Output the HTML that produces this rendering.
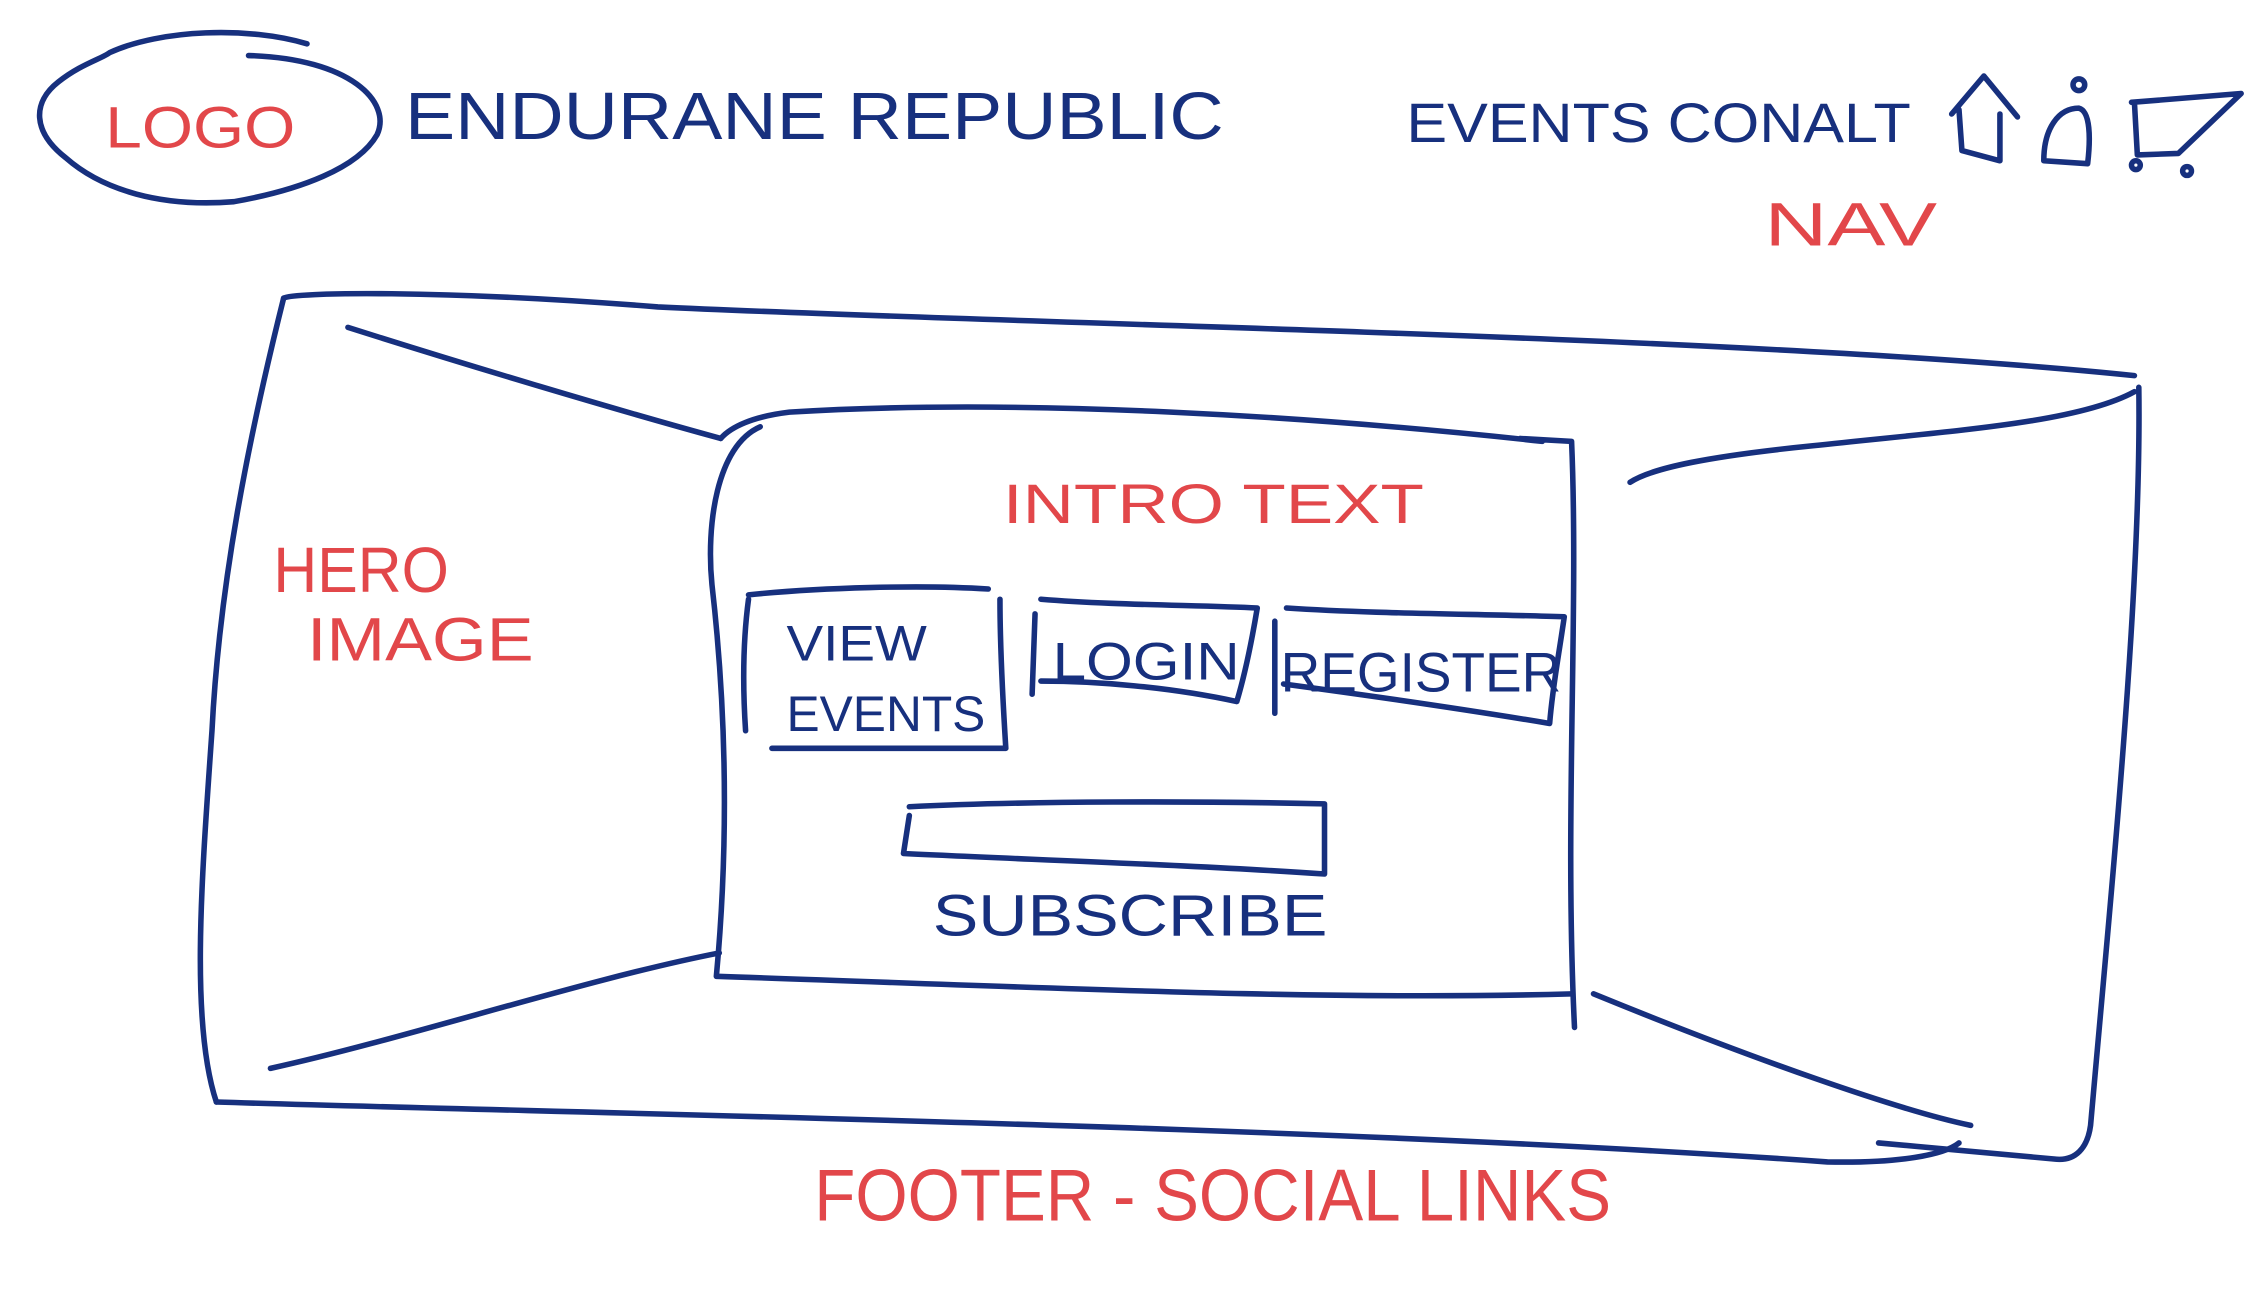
<!DOCTYPE html>
<html><head><meta charset="utf-8"><style>
html,body{margin:0;padding:0;background:#fff;}
svg{display:block;}
.n{fill:none;stroke:#17307e;stroke-width:3.8;stroke-linecap:round;stroke-linejoin:round;}
.tn{fill:#17307e;font-family:"Liberation Sans",sans-serif;}
.tr{fill:#e2474a;font-family:"Liberation Sans",sans-serif;}
</style></head><body>
<svg width="2266" height="1292" viewBox="0 0 1550 884" preserveAspectRatio="none" xmlns="http://www.w3.org/2000/svg">
<path class="n" d="M75,36 C110,20 170,18 210,30 M170,38 C240,40 268,70 258,92 C245,115 205,130 160,138 C110,142 70,130 45,108 C22,90 22,70 40,56 C55,44 70,40 75,36"/>
<text class="tr" x="72" y="101" font-size="40" textLength="130" lengthAdjust="spacingAndGlyphs">LOGO</text>
<text class="tn" x="277" y="95" font-size="46" textLength="560" lengthAdjust="spacingAndGlyphs">ENDURANE REPUBLIC</text>
<text class="tn" x="962" y="97" font-size="38" textLength="345" lengthAdjust="spacingAndGlyphs">EVENTS CONALT</text>
<path class="n" d="M1335,78 L1357,52 L1380,80 M1340,75 L1342,103 L1368,110 L1368,78"/>
<circle class="n" cx="1422" cy="58" r="4"/>
<path class="n" d="M1398,110 C1398,88 1408,74 1422,74 C1430,76 1430,95 1428,112 Z"/>
<path class="n" d="M1458,70 L1533,64 L1490,105 L1462,106 L1460,70"/>
<circle class="n" cx="1461" cy="113" r="3"/><circle class="n" cx="1496" cy="117" r="3"/>
<text class="tr" x="1207" y="168" font-size="42" textLength="118" lengthAdjust="spacingAndGlyphs">NAV</text>
<path class="n" d="M194,204 C200,200 300,198 450,210 C700,222 1200,230 1460,257"/>
<path class="n" d="M1463,265 C1465,400 1445,600 1430,770 C1428,785 1420,795 1405,793 L1285,782"/>
<path class="n" d="M194,204 C170,300 150,400 145,500 C138,600 130,700 148,754"/>
<path class="n" d="M148,754 C400,762 900,770 1250,795 C1300,796 1330,790 1340,782"/>
<path class="n" d="M238,224 C320,250 420,280 493,300"/>
<path class="n" d="M1460,268 C1420,290 1330,295 1240,305 C1170,312 1130,320 1115,330"/>
<path class="n" d="M185,731 C280,710 400,670 492,652"/>
<path class="n" d="M1090,680 C1200,725 1300,760 1348,770"/>
<path class="n" d="M493,300 C500,292 515,285 540,282 C700,272 900,285 1055,302 M1040,300 L1075,302 C1080,420 1070,560 1077,703"/>
<path class="n" d="M520,292 C490,305 483,360 487,400 C495,470 500,560 490,668 C700,675 900,685 1075,680 1100,678 1100,673"/>
<text class="tr" x="686" y="358" font-size="38" textLength="288" lengthAdjust="spacingAndGlyphs">INTRO TEXT</text>
<path class="n" d="M512,407 C560,402 630,400 676,403 M684,410 C684,440 686,480 688,512 L528,512 M512,410 C508,440 508,470 510,500"/>
<text class="tn" x="538" y="452" font-size="34" textLength="96" lengthAdjust="spacingAndGlyphs">VIEW</text>
<text class="tn" x="538" y="500" font-size="34" textLength="136" lengthAdjust="spacingAndGlyphs">EVENTS</text>
<path class="n" d="M712,410 C760,414 820,414 860,416 C856,440 852,460 846,480 C800,470 750,466 712,466 M708,420 L706,475"/>
<text class="tn" x="720" y="465" font-size="36" textLength="128" lengthAdjust="spacingAndGlyphs">LOGIN</text>
<path class="n" d="M880,416 C940,420 1010,420 1070,422 C1066,450 1062,470 1060,495 C1000,485 930,475 878,468 M872,425 L872,488"/>
<text class="tn" x="876" y="473" font-size="38" textLength="192" lengthAdjust="spacingAndGlyphs">REGISTER</text>
<path class="n" d="M622,552 C700,548 820,548 906,550 L906,598 C820,592 700,588 618,584 L622,558"/>
<text class="tn" x="638" y="640" font-size="40" textLength="270" lengthAdjust="spacingAndGlyphs">SUBSCRIBE</text>
<text class="tr" x="187" y="405" font-size="44" textLength="120" lengthAdjust="spacingAndGlyphs">HERO</text>
<text class="tr" x="210" y="452" font-size="42" textLength="155" lengthAdjust="spacingAndGlyphs">IMAGE</text>
<text class="tr" x="557" y="835" font-size="50" textLength="545" lengthAdjust="spacingAndGlyphs">FOOTER - SOCIAL LINKS</text>
</svg>
</body></html>
